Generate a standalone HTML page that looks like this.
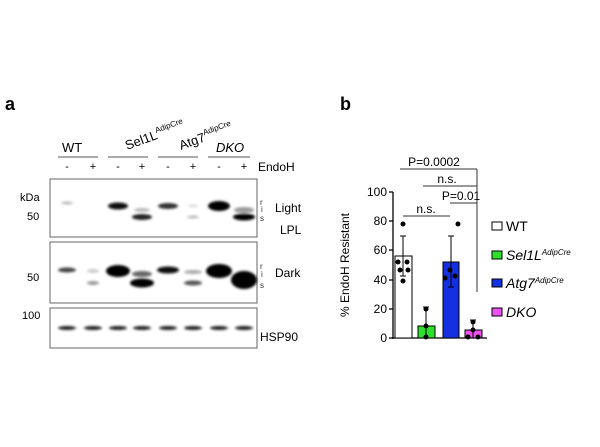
<!DOCTYPE html>
<html><head><style>body{margin:0;background:#fff}svg{display:block}</style></head>
<body>
<svg width="600" height="447" viewBox="0 0 600 447" xmlns="http://www.w3.org/2000/svg" font-family="Liberation Sans, sans-serif">
<defs>
<filter id="bl" x="-50%" y="-100%" width="200%" height="300%"><feGaussianBlur stdDeviation="1.3"/></filter>
</defs>
<text x="5" y="110" font-size="18" font-weight="bold">a</text>
<text x="340" y="110" font-size="18" font-weight="bold">b</text>
<!-- headers -->
<text x="62" y="152" font-size="13">WT</text>
<text x="127" y="150" font-size="13" transform="rotate(-20 127 150)">Sel1L<tspan font-size="8" dy="-6">AdipCre</tspan></text>
<text x="181" y="150" font-size="13" transform="rotate(-20 181 150)">Atg7<tspan font-size="8" dy="-6">AdipCre</tspan></text>
<text x="216" y="152" font-size="13" font-style="italic">DKO</text>
<g stroke="#555" stroke-width="1">
<line x1="58" y1="157" x2="98" y2="157"/><line x1="108" y1="157" x2="148" y2="157"/>
<line x1="158" y1="157" x2="198" y2="157"/><line x1="208" y1="157" x2="250" y2="157"/>
</g>
<g font-size="11" text-anchor="middle">
<text x="67" y="170">-</text><text x="93" y="170">+</text><text x="118" y="170">-</text><text x="142" y="170">+</text>
<text x="168" y="170">-</text><text x="193" y="170">+</text><text x="219" y="170">-</text><text x="244" y="170">+</text>
</g>
<text x="258" y="171" font-size="12">EndoH</text>
<!-- panels -->
<g fill="none" stroke="#666" stroke-width="1">
<rect x="50" y="179" width="207" height="58"/><rect x="50" y="242" width="207" height="61"/><rect x="50" y="308" width="207" height="40"/>
</g>
<g font-size="11">
<text x="20" y="201">kDa</text><text x="27" y="220">50</text><text x="27" y="281">50</text><text x="22" y="319">100</text>
<text x="275" y="212" font-size="12">Light</text><text x="280" y="234" font-size="12">LPL</text>
<text x="275" y="277" font-size="12">Dark</text><text x="260" y="341" font-size="12">HSP90</text>
</g>
<g font-size="8" fill="#333"><text x="260" y="205">r</text><text x="261" y="212">i</text><text x="260" y="221">s</text>
<text x="260" y="269">r</text><text x="261" y="277">i</text><text x="260" y="288">s</text></g>
<g filter="url(#bl)">
<ellipse cx="67" cy="203" rx="6" ry="1.5" fill="#bbb"/>
<ellipse cx="118" cy="206" rx="10" ry="3.5" fill="#111"/>
<ellipse cx="142" cy="210" rx="8" ry="2" fill="#bbb"/>
<ellipse cx="142" cy="217" rx="10" ry="3" fill="#222"/>
<ellipse cx="168" cy="206" rx="10" ry="3" fill="#333"/>
<ellipse cx="193" cy="206" rx="5" ry="1.5" fill="#ddd"/>
<ellipse cx="193" cy="217" rx="6" ry="1.5" fill="#bbb"/>
<ellipse cx="219" cy="206" rx="11" ry="5" fill="#000"/>
<ellipse cx="244" cy="210" rx="10" ry="3" fill="#999"/>
<ellipse cx="244" cy="217" rx="11" ry="3.5" fill="#000"/>
<ellipse cx="67" cy="270" rx="9" ry="2.5" fill="#444"/>
<ellipse cx="93" cy="271" rx="6" ry="2" fill="#ccc"/>
<ellipse cx="93" cy="283" rx="6" ry="2" fill="#999"/>
<ellipse cx="118" cy="271" rx="12" ry="6" fill="#000"/>
<ellipse cx="142" cy="274" rx="10" ry="3" fill="#666"/>
<ellipse cx="142" cy="283" rx="12" ry="4.5" fill="#000"/>
<ellipse cx="168" cy="270" rx="11" ry="3.5" fill="#111"/>
<ellipse cx="193" cy="272" rx="9" ry="2" fill="#aaa"/>
<ellipse cx="193" cy="283" rx="9" ry="2.5" fill="#555"/>
<ellipse cx="219" cy="271" rx="13" ry="7" fill="#000"/>
<ellipse cx="244" cy="280" rx="13" ry="9" fill="#000"/>
</g>
<g filter="url(#bl)" fill="#222">
<ellipse cx="67" cy="328" rx="9" ry="2"/><ellipse cx="93" cy="328" rx="9" ry="2"/><ellipse cx="118" cy="328" rx="9" ry="2"/><ellipse cx="142" cy="328" rx="9" ry="2"/>
<ellipse cx="168" cy="328" rx="9" ry="2"/><ellipse cx="193" cy="328" rx="9" ry="2"/><ellipse cx="219" cy="328" rx="9" ry="2"/><ellipse cx="244" cy="328" rx="9" ry="2"/>
</g>
<!-- chart b -->
<g stroke="#000" stroke-width="1.3" fill="none">
<line x1="393" y1="192" x2="393" y2="339"/><line x1="393" y1="338" x2="487" y2="338"/>
<line x1="389" y1="192" x2="393" y2="192"/><line x1="389" y1="221" x2="393" y2="221"/><line x1="389" y1="250" x2="393" y2="250"/>
<line x1="389" y1="280" x2="393" y2="280"/><line x1="389" y1="309" x2="393" y2="309"/><line x1="389" y1="338" x2="393" y2="338"/>
</g>
<g font-size="12" text-anchor="end"><text x="387" y="196">100</text><text x="387" y="225">80</text><text x="387" y="254">60</text><text x="387" y="284">40</text><text x="387" y="313">20</text><text x="387" y="342">0</text></g>
<text x="349" y="265" font-size="12" text-anchor="middle" transform="rotate(-90 349 265)">% EndoH Resistant</text>
<g stroke="#000" stroke-width="1">
<rect x="395" y="256" width="17" height="82" fill="#fff"/>
<rect x="418" y="326" width="17" height="12" fill="#2ee02e"/>
<rect x="443" y="262" width="16" height="76" fill="#1530e0"/>
<rect x="465" y="330" width="17" height="8" fill="#f050f0"/>
<line x1="403" y1="236" x2="403" y2="276"/><line x1="400" y1="236" x2="406" y2="236"/><line x1="400" y1="276" x2="406" y2="276"/>
<line x1="426" y1="307" x2="426" y2="338"/><line x1="423" y1="307" x2="429" y2="307"/>
<line x1="451" y1="236" x2="451" y2="287"/><line x1="448" y1="236" x2="454" y2="236"/><line x1="448" y1="287" x2="454" y2="287"/>
<line x1="473" y1="320" x2="473" y2="338"/><line x1="470" y1="320" x2="476" y2="320"/>
</g>
<g fill="#000">
<circle cx="403" cy="224" r="2.5"/><circle cx="398" cy="262" r="2.5"/><circle cx="407" cy="262" r="2.5"/><circle cx="400" cy="270" r="2.5"/><circle cx="408" cy="270" r="2.5"/><circle cx="403" cy="281" r="2.5"/>
<circle cx="426" cy="309" r="2.5"/><circle cx="426" cy="326" r="2.5"/><circle cx="426" cy="337" r="2.5"/>
<circle cx="458" cy="224" r="2.5"/><circle cx="450" cy="270" r="2.5"/><circle cx="455" cy="276" r="2.5"/><circle cx="445" cy="278" r="2.5"/>
<circle cx="473" cy="322" r="2.5"/><circle cx="473" cy="330" r="2.5"/><circle cx="468" cy="337" r="2.5"/><circle cx="478" cy="337" r="2.5"/>
</g>
<g stroke="#333" stroke-width="1">
<line x1="400" y1="169" x2="477" y2="169"/><line x1="477" y1="169" x2="477" y2="292"/>
<line x1="423" y1="186" x2="477" y2="186"/><line x1="450" y1="203" x2="477" y2="203"/>
<line x1="403" y1="216" x2="450" y2="216"/>
</g>
<g font-size="12" text-anchor="middle">
<text x="434" y="166">P=0.0002</text><text x="447" y="183">n.s.</text><text x="461" y="200">P=0.01</text><text x="426" y="213">n.s.</text>
</g>
<g stroke="#000" stroke-width="1">
<rect x="492" y="222" width="10" height="8" fill="#fff"/><rect x="492" y="251" width="10" height="8" fill="#2ee02e"/>
<rect x="492" y="279" width="10" height="8" fill="#1530e0"/><rect x="492" y="308" width="10" height="8" fill="#f050f0"/>
</g>
<g font-size="14"><text x="506" y="231">WT</text>
<text x="506" y="260" font-style="italic">Sel1L<tspan font-size="8" dy="-5">AdipCre</tspan></text>
<text x="506" y="288" font-style="italic">Atg7<tspan font-size="8" dy="-5">AdipCre</tspan></text>
<text x="506" y="317" font-style="italic">DKO</text></g>
</svg>
</body></html>
